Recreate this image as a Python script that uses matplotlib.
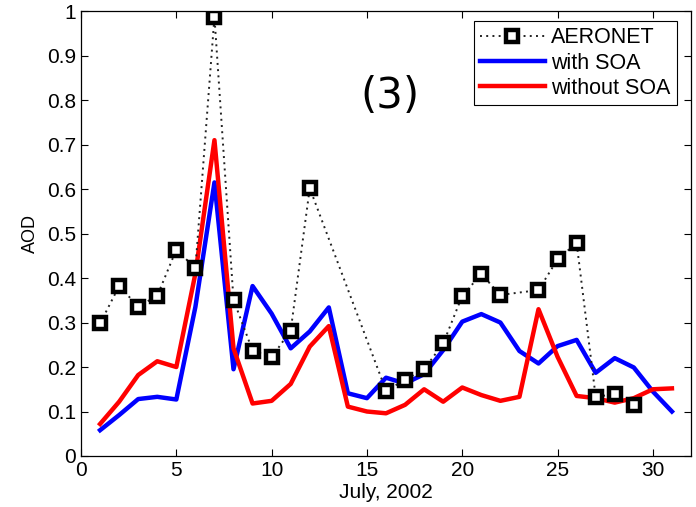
import numpy as np
from matplotlib import pyplot as plt

plt.rcParams['font.family'] = ['Liberation Sans', 'DejaVu Sans']

# AERONET observations (days with data only)
aeronet_day = [1, 2, 3, 4, 5, 6, 7, 8, 9, 10, 11, 12,
               16, 17, 18, 19, 20, 21, 22, 24, 25, 26, 27, 28, 29]
aeronet_aod = [0.298, 0.382, 0.336, 0.360, 0.464, 0.422, 0.987, 0.351,
               0.237, 0.222, 0.282, 0.602,
               0.147, 0.171, 0.195, 0.253, 0.360, 0.409, 0.362,
               0.373, 0.442, 0.479, 0.133, 0.139, 0.115]

model_day = list(range(1, 32))
with_soa = [0.058, 0.092, 0.128, 0.133, 0.127, 0.335, 0.615, 0.195,
            0.382, 0.320, 0.242, 0.280, 0.334, 0.141, 0.130, 0.176,
            0.163, 0.184, 0.238, 0.302, 0.319, 0.300, 0.236, 0.208,
            0.247, 0.261, 0.187, 0.220, 0.199, 0.145, 0.100]
without_soa = [0.072, 0.122, 0.182, 0.213, 0.200, 0.410, 0.710, 0.242,
               0.118, 0.124, 0.162, 0.246, 0.292, 0.111, 0.100, 0.096,
               0.115, 0.150, 0.122, 0.154, 0.137, 0.124, 0.133, 0.330,
               0.223, 0.135, 0.130, 0.120, 0.130, 0.150, 0.152]


def main():
    fig = plt.figure(figsize=(6.96, 5.07), dpi=100)
    ax = fig.add_axes([0.1164, 0.1006, 0.8764, 0.8774])

    ax.plot(aeronet_day, aeronet_aod, color='#222222',
            linestyle=(0, (1, 2.2)), linewidth=1.4, marker='s',
            markersize=8.5, markerfacecolor='white',
            markeredgecolor='black', markeredgewidth=3.2,
            label='AERONET', zorder=3)
    ax.plot(model_day, with_soa, color='#0000ff', linewidth=3.2,
            label='with SOA', zorder=2)
    ax.plot(model_day, without_soa, color='#ff0000', linewidth=3.2,
            label='without SOA', zorder=2)

    ax.set_xlim(0, 32)
    ax.set_ylim(0, 1)
    ax.set_xticks(np.arange(0, 31, 5))
    ax.set_yticks(np.arange(0, 1.01, 0.1))
    ax.set_yticklabels(['0', '0.1', '0.2', '0.3', '0.4', '0.5', '0.6',
                        '0.7', '0.8', '0.9', '1'])
    ax.tick_params(direction='in', top=True, right=True, length=5,
                   labelsize=15, width=0.8)
    for s in ax.spines.values():
        s.set_linewidth(0.9)

    ax.set_xlabel('July, 2002', fontsize=15, labelpad=2)
    ax.set_ylabel('AOD', fontsize=13, labelpad=6)

    ax.text(16.2, 0.81, '(3)', fontsize=30, family='DejaVu Sans',
            ha='center', va='center')

    leg = ax.legend(loc='upper right', fontsize=15.5, numpoints=1,
                    handlelength=3.0, handletextpad=0.3, labelspacing=0.2,
                    borderpad=0.3, borderaxespad=0, fancybox=False,
                    framealpha=1, edgecolor='black',
                    bbox_to_anchor=(0.977, 0.978))
    leg.get_frame().set_linewidth(0.8)

    fig.savefig('out.png', dpi=100)
    plt.close(fig)


if __name__ == "__main__":
    main()
